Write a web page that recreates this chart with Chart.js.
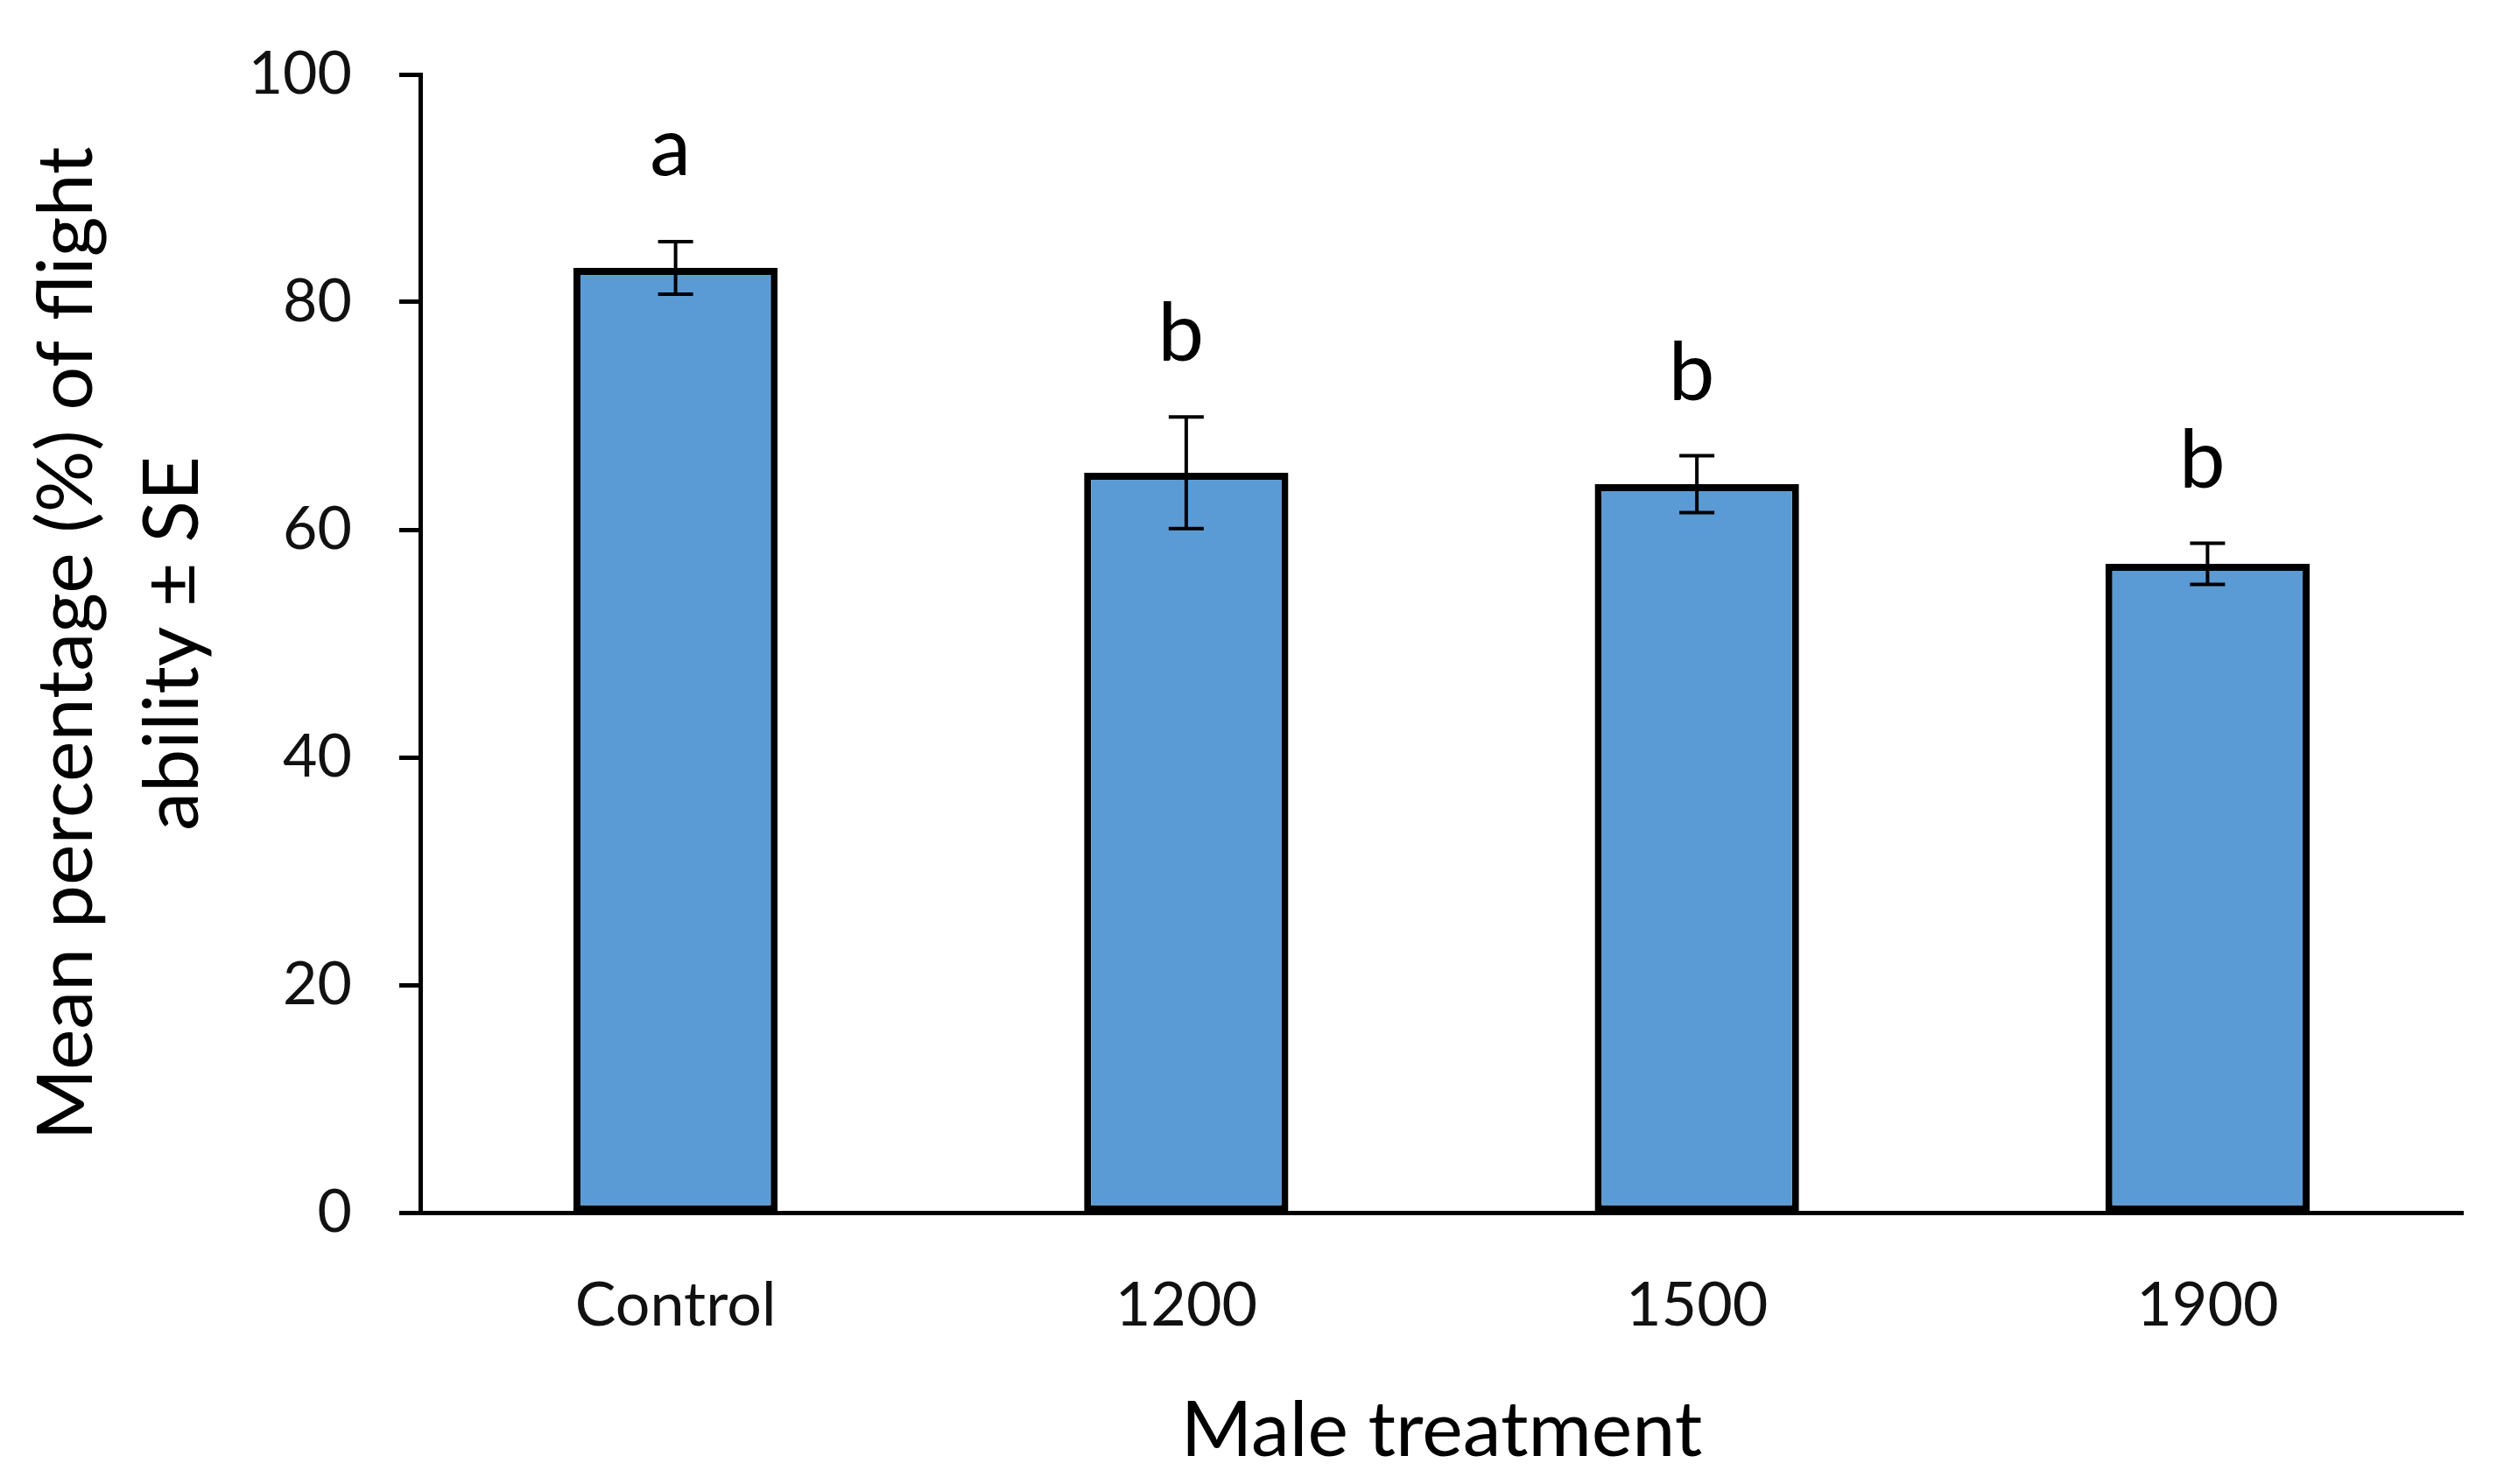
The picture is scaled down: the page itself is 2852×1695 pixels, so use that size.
<!DOCTYPE html>
<html>
<head>
<meta charset="utf-8">
<script src="https://cdn.jsdelivr.net/npm/chart.js@4.4.1/dist/chart.umd.min.js"></script>
<style>
  html, body { margin: 0; padding: 0; background: #fff; }
  canvas { display: block; }
</style>
</head>
<body>
<canvas id="myChart" width="2852" height="1695"></canvas>
<script>
// values
var categories = ['Control', '1200', '1500', '1900'];
var means = [83.0, 65.0, 64.0, 57.0];
var errors = [2.3, 4.9, 2.5, 1.8];
var letters = ['a', 'b', 'b', 'b'];
var yTicks = [0, 20, 40, 60, 80, 100];

var fontFamily = 'Lato, "Open Sans", sans-serif';

// draws the SE whiskers and the significance letters
var errorBarPlugin = {
    id: 'errorBars',
    afterDatasetsDraw: function (chart) {
        var ctx = chart.ctx,
            x = chart.scales.x,
            y = chart.scales.y;
        ctx.save();
        ctx.strokeStyle = '#000';
        ctx.lineWidth = 4;
        for (var i = 0; i < means.length; i++) {
            var cx = x.getPixelForValue(i),
                top = y.getPixelForValue(means[i] + errors[i]),
                bottom = y.getPixelForValue(means[i] - errors[i]);
            ctx.beginPath();
            ctx.moveTo(cx, top); ctx.lineTo(cx, bottom);
            ctx.moveTo(cx - 20, top); ctx.lineTo(cx + 20, top);
            ctx.moveTo(cx - 20, bottom); ctx.lineTo(cx + 20, bottom);
            ctx.stroke();

            ctx.fillStyle = '#000';
            ctx.font = '94px ' + fontFamily;
            ctx.textAlign = 'center';
            ctx.textBaseline = 'alphabetic';
            ctx.fillText(letters[i], cx - 6, top - (i === 0 ? 76 : 64));
        }
        ctx.restore();
    }
};

var ctx = document.getElementById('myChart');
var myChart = new Chart(ctx, {
    type: 'bar',
    data: {
        labels: categories,
        datasets: [{
            label: 'Mean',
            data: means,
            backgroundColor: '#5b9bd5',
            borderColor: '#000',
            borderWidth: 8,
            borderSkipped: false,
            categoryPercentage: 1.0,
            barPercentage: 0.4
        }]
    },
    options: {
        responsive: false,
        devicePixelRatio: 1,
        animation: false,
        layout: { padding: { top: 85, right: 39, bottom: 0, left: 0 } },
        plugins: {
            legend: { display: false },
            tooltip: { enabled: false }
        },
        scales: {
            x: {
                afterFit: function (s) {
                    s.height = 310;
                    s.paddingLeft = 0;
                    s.paddingRight = 0;
                },
                grid: { display: false, drawTicks: false },
                border: { display: true, color: '#000', width: 5 },
                ticks: {
                    padding: 64,
                    color: '#111',
                    font: { family: fontFamily, size: 70 }
                },
                title: {
                    display: true,
                    text: 'Male treatment',
                    color: '#000',
                    padding: { top: 0, bottom: 8 },
                    font: { family: fontFamily, size: 88 }
                }
            },
            y: {
                min: 0,
                max: 100,
                afterFit: function (s) {
                    s.width = 480;
                    s.paddingTop = 0;
                    s.paddingBottom = 0;
                },
                afterBuildTicks: function (s) {
                    s.ticks = yTicks.map(function (v) { return { value: v }; });
                },
                grid: {
                    drawOnChartArea: false,
                    drawTicks: true,
                    tickLength: 24,
                    tickWidth: 5,
                    tickColor: '#000'
                },
                border: { display: true, color: '#000', width: 5 },
                ticks: {
                    padding: 54,
                    color: '#111',
                    font: { family: fontFamily, size: 68 }
                },
                title: {
                    display: true,
                    text: ['Mean percentage (%) of flight', 'ability \u00b1 SE'],
                    color: '#000',
                    padding: { top: 16, bottom: 0 },
                    font: { family: fontFamily, size: 88, lineHeight: 1.375 }
                }
            }
        }
    },
    plugins: [errorBarPlugin]
});
</script>
</body>
</html>
